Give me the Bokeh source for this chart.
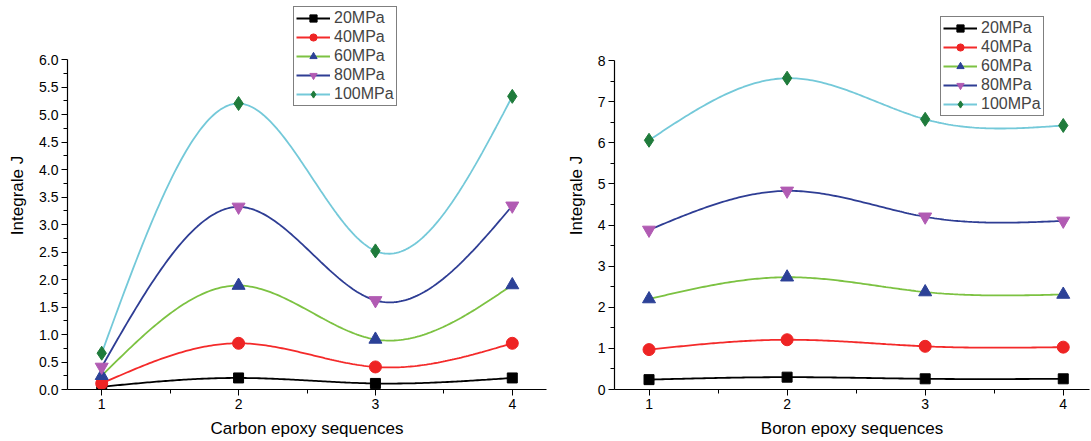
import numpy as np
from bokeh.plotting import figure
from bokeh.layouts import row
from bokeh.models import FixedTicker, Legend, LegendItem, Range1d, CustomJSTickFormatter
from bokeh.embed import file_html
from bokeh.resources import INLINE

# ---------------- data ----------------
sequences = [1, 2, 3, 4]
series_labels = ["20MPa", "40MPa", "60MPa", "80MPa", "100MPa"]

carbon_20 = [0.05, 0.21, 0.11, 0.21]
carbon_40 = [0.11, 0.84, 0.41, 0.84]
carbon_60 = [0.25, 1.89, 0.91, 1.90]
carbon_80 = [0.41, 3.32, 1.62, 3.34]
carbon_100 = [0.66, 5.20, 2.52, 5.33]

boron_20 = [0.24, 0.30, 0.26, 0.26]
boron_40 = [0.97, 1.21, 1.05, 1.03]
boron_60 = [2.20, 2.73, 2.37, 2.31]
boron_80 = [3.88, 4.83, 4.20, 4.10]
boron_100 = [6.06, 7.57, 6.57, 6.42]

carbon_y_ticks = [0.0, 0.5, 1.0, 1.5, 2.0, 2.5, 3.0, 3.5, 4.0, 4.5, 5.0, 5.5, 6.0]
boron_y_ticks = [0, 1, 2, 3, 4, 5, 6, 7, 8]

# ---------------- styles ----------------
line_colors = ["#000000", "#f42a2a", "#7cc242", "#2e3d94", "#74c9d9"]
marker_colors = ["#000000", "#ee2424", "#2c4197", "#b15bb3", "#1f7b3b"]
markers = ["square", "circle", "triangle", "inverted_triangle", "diamond"]
marker_sizes = [10, 12, 13, 13, 14]
FONT = "Liberation Sans"


def natural_spline(xs, ys, n=60):
    x = np.asarray(xs, float)
    y = np.asarray(ys, float)
    k = len(x)
    h = np.diff(x)
    A = np.zeros((k, k))
    b = np.zeros(k)
    A[0, 0] = A[-1, -1] = 1.0
    for i in range(1, k - 1):
        A[i, i - 1] = h[i - 1]
        A[i, i] = 2 * (h[i - 1] + h[i])
        A[i, i + 1] = h[i]
        b[i] = 6 * ((y[i + 1] - y[i]) / h[i] - (y[i] - y[i - 1]) / h[i - 1])
    M = np.linalg.solve(A, b)
    ox, oy = [], []
    for i in range(k - 1):
        t = np.linspace(x[i], x[i + 1], n, endpoint=(i == k - 2))
        a = x[i + 1] - t
        c = t - x[i]
        s = (M[i] * a ** 3 / (6 * h[i]) + M[i + 1] * c ** 3 / (6 * h[i])
             + (y[i] / h[i] - M[i] * h[i] / 6) * a
             + (y[i + 1] / h[i] - M[i + 1] * h[i] / 6) * c)
        ox.extend(t.tolist())
        oy.extend(s.tolist())
    return ox, oy


def make_plot(series, xlabel, yticks, yminor, ytop, yrange_end, xend, width,
              border_left, border_right, legend_loc, fmt):
    p = figure(width=width, height=441, output_backend="svg", toolbar_location=None,
               x_range=Range1d(0.75, xend), y_range=Range1d(0, yrange_end),
               min_border_left=border_left, min_border_right=border_right,
               min_border_top=1, min_border_bottom=52)
    p.outline_line_color = None
    p.xgrid.visible = False
    p.ygrid.visible = False
    p.background_fill_color = "white"
    p.border_fill_color = "white"

    items = []
    for lab, ys, lc, mc, mk, ms in zip(series_labels, series, line_colors,
                                        marker_colors, markers, marker_sizes):
        sx, sy = natural_spline(sequences, ys)
        lr = p.line(sx, sy, line_color=lc, line_width=1.8)
        sr = p.scatter(sequences, ys, marker=mk, size=ms, fill_color=mc,
                       line_color=mc)
        items.append(LegendItem(label=lab, renderers=[lr, sr]))

    legend = Legend(items=items, location=legend_loc,
                    border_line_color="black", border_line_width=1,
                    background_fill_color="white", background_fill_alpha=1.0,
                    label_text_font=FONT, label_text_font_size="16px",
                    glyph_width=34, glyph_height=18, label_height=18,
                    label_standoff=4, spacing=1, padding=2, margin=0)
    p.add_layout(legend, "center")

    p.xaxis.ticker = FixedTicker(ticks=[1, 2, 3, 4], minor_ticks=[1.5, 2.5, 3.5])
    p.yaxis.ticker = FixedTicker(ticks=yticks, minor_ticks=yminor)
    p.yaxis.formatter = CustomJSTickFormatter(code=fmt)
    p.yaxis.bounds = (0, ytop)

    for ax in (p.xaxis[0], p.yaxis[0]):
        ax.axis_line_color = "black"
        ax.axis_line_width = 1.2
        ax.major_tick_line_color = "black"
        ax.minor_tick_line_color = "black"
        ax.major_tick_out = 6
        ax.major_tick_in = 0
        ax.minor_tick_out = 4
        ax.minor_tick_in = 0
        ax.major_label_text_font = FONT
        ax.major_label_text_font_size = "14px"
        ax.major_label_text_color = "black"
        ax.axis_label_text_font = FONT
        ax.axis_label_text_font_size = "17px"
        ax.axis_label_text_font_style = "normal"
        ax.axis_label_text_color = "black"
    p.xaxis.axis_label = xlabel
    p.yaxis.axis_label = "Integrale J"
    p.xaxis.major_label_standoff = 3
    p.xaxis.axis_label_standoff = 7
    p.yaxis.major_label_standoff = 3
    p.yaxis.axis_label_standoff = 9
    return p


carbon = [carbon_20, carbon_40, carbon_60, carbon_80, carbon_100]
boron = [boron_20, boron_40, boron_60, boron_80, boron_100]

# frame top sits above the last tick so that the legend can rise above the axis
left = make_plot(carbon, "Carbon epoxy sequences", carbon_y_ticks,
                 [v + 0.25 for v in carbon_y_ticks[:-1]], 6.0, 6.0 * 388 / 330,
                 4.25, 558, 67, 12, (226, 283), "return tick.toFixed(1);")
right = make_plot(boron, "Boron epoxy sequences", boron_y_ticks,
                  [v + 0.5 for v in boron_y_ticks[:-1]], 8.0, 8.0 * 388 / 329,
                  4.19, 533, 56, 2, (326, 273), "return tick.toFixed(0);")

layout = row(left, right, spacing=0)
html = file_html(layout, INLINE)
html = html.replace("<head>", "<head><style>html,body{overflow:hidden;margin:0;}</style>", 1)
open("out.html", "w").write(html)
